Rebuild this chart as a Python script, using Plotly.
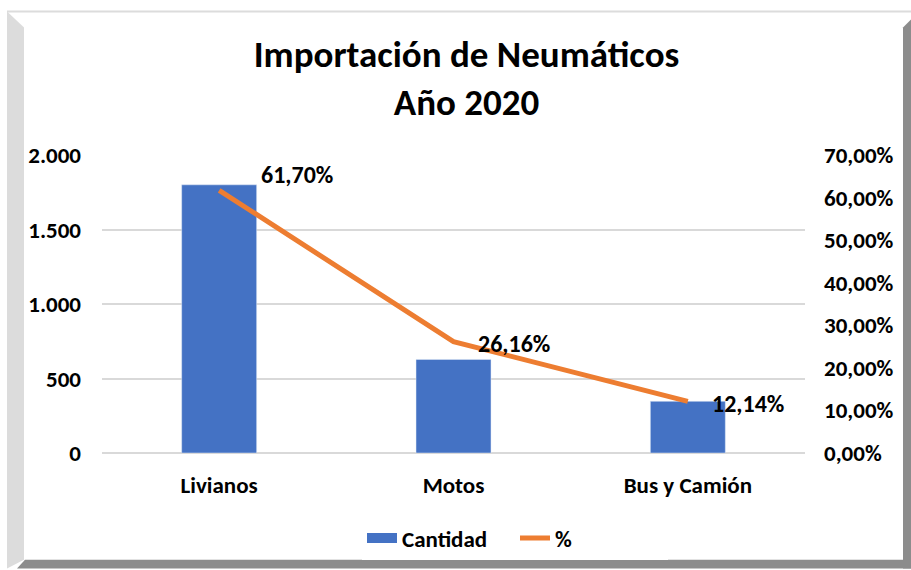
import plotly.graph_objects as go

categories = ["Livianos", "Motos", "Bus y Camión"]
cantidad = [1800, 628, 347]
porcentaje = [61.70, 26.16, 12.14]
pct_labels = ["61,70%", "26,16%", "12,14%"]
label_dy = [16, -2, -2]
left_ticks = [0, 500, 1000, 1500, 2000]
left_tick_text = ["0", "500", "1.000", "1.500", "2.000"]
right_ticks = [0, 10, 20, 30, 40, 50, 60, 70]
right_tick_text = ["0,00%", "10,00%", "20,00%", "30,00%", "40,00%", "50,00%", "60,00%", "70,00%"]

W, H = 911, 570
L, R, T, B = 102, 106, 155, 116
PW = W - L - R
PH = H - T - B

def px(x):
    return (x - L) / PW

def py(y):
    return (H - B - y) / PH

FONT = "Carlito, Lato, 'Open Sans', sans-serif"
BLUE = "#4472C4"
ORANGE = "#ED7D31"

fig = go.Figure()
fig.add_trace(go.Bar(
    x=categories, y=cantidad, name="Cantidad",
    marker=dict(color=BLUE), width=0.32, yaxis="y",
    showlegend=False, legendgroup="c",
))
# legend entry for the bars (wide rectangle swatch like the original)
fig.add_trace(go.Scatter(
    x=[None], y=[None], name="Cantidad", mode="lines",
    line=dict(color=BLUE, width=12), legendgroup="c", yaxis="y",
))
fig.add_trace(go.Scatter(
    x=categories, y=porcentaje, name="%", yaxis="y2",
    mode="lines", line=dict(color=ORANGE, width=5),
))

annotations = []
for cat, val, lab, dy in zip(categories, porcentaje, pct_labels, label_dy):
    annotations.append(dict(
        x=cat, y=val, xref="x", yref="y2", text=f"<b>{lab}</b>",
        showarrow=False, xanchor="left", yanchor="middle",
        xshift=22 if dy <= 0 else 40, yshift=dy,
        font=dict(family=FONT, size=24, color="#000000"),
    ))

shapes = [
    dict(type="line", xref="paper", yref="paper", x0=px(7), x1=px(911), y0=py(11), y1=py(11),
         line=dict(color="#dcdcdc", width=2), layer="below"),
    dict(type="path", xref="paper", yref="paper",
         path=f"M {px(7)},{py(11)} L {px(24)},{py(27)} L {px(24)},{py(561)} L {px(7)},{py(570)} Z",
         fillcolor="#dcdcdc", line=dict(width=0), layer="below"),
    dict(type="path", xref="paper", yref="paper",
         path=f"M {px(17)},{py(570)} L {px(25)},{py(561)} L {px(911)},{py(561)} L {px(911)},{py(570)} Z",
         fillcolor="#8c8c8c", line=dict(width=0), layer="below"),
    dict(type="path", xref="paper", yref="paper",
         path=f"M {px(903)},{py(27)} L {px(911)},{py(19)} L {px(911)},{py(570)} L {px(903)},{py(570)} Z",
         fillcolor="#8c8c8c", line=dict(width=0), layer="below"),
]

fig.update_layout(
    width=W, height=H,
    margin=dict(l=L, r=R, t=T, b=B, pad=0),
    paper_bgcolor="white", plot_bgcolor="white",
    font=dict(family=FONT, size=23, color="#000000"),
    title=dict(
        text="<b>Importación de Neumáticos<br>Año 2020</b>",
        x=px(462), xanchor="center", y=1 - 67 / H, yanchor="top",
        font=dict(family=FONT, size=37, color="#000000"),
    ),
    xaxis=dict(
        showgrid=False, showline=False, ticks="",
        tickfont=dict(family=FONT, size=23, weight="bold"),
        ticklabelstandoff=16,
    ),
    yaxis=dict(
        range=[0, 2000], tickvals=left_ticks, ticktext=left_tick_text,
        showgrid=True, gridcolor="#d9d9d9", gridwidth=1.5,
        zeroline=True, zerolinecolor="#d9d9d9", zerolinewidth=1.5,
        showline=False, ticks="",
        tickfont=dict(family=FONT, size=23, weight="bold"),
        ticklabelstandoff=20,
    ),
    yaxis2=dict(
        range=[0, 70], tickvals=right_ticks, ticktext=right_tick_text,
        overlaying="y", side="right", showgrid=False, zeroline=False,
        showline=False, ticks="",
        tickfont=dict(family=FONT, size=23, weight="bold"),
        ticklabelstandoff=18,
    ),
    legend=dict(
        orientation="h", x=px(362), xanchor="left", y=py(538), yanchor="middle",
        font=dict(family=FONT, size=23, weight="bold"),
        traceorder="normal", entrywidth=108, entrywidthmode="pixels",
    ),
    annotations=annotations,
    shapes=shapes,
)

fig.write_html(
    "out.html",
    config={"displayModeBar": False},
    post_script="document.body.style.margin='0';document.body.style.overflow='hidden';",
)
